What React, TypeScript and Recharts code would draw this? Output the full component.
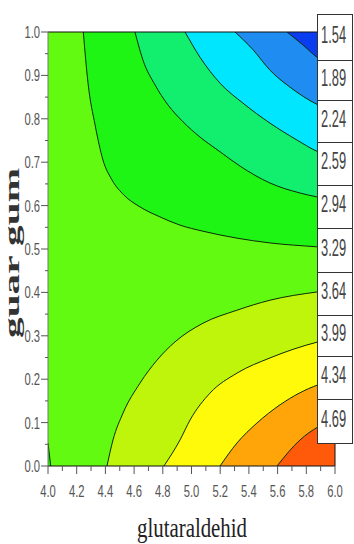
import React from "react";
import { Area, ComposedChart, Line, ReferenceLine, XAxis, YAxis } from "recharts";

type Pt = [number, number];

// contour lines, as [glutaraldehid, guar gum]
// upper right family (fill above the line)
const topA: Pt[] = [[4.246, 1.0], [4.279, 0.882], [4.328, 0.786], [4.383, 0.705], [4.446, 0.659], [4.53, 0.624], [4.641, 0.597], [4.78, 0.574], [4.92, 0.555], [5.08, 0.541], [5.317, 0.525], [5.547, 0.514], [5.875, 0.505], [6.0, 0.502]];
const topB: Pt[] = [[4.606, 1.0], [4.662, 0.935], [4.746, 0.878], [4.836, 0.832], [4.941, 0.793], [5.059, 0.758], [5.199, 0.724], [5.338, 0.691], [5.547, 0.652], [5.756, 0.629], [5.875, 0.62], [6.0, 0.613]];
const topC: Pt[] = [[4.955, 1.0], [5.059, 0.942], [5.199, 0.882], [5.359, 0.836], [5.547, 0.79], [5.735, 0.751], [5.882, 0.724], [6.0, 0.712]];
const topD: Pt[] = [[5.303, 1.0], [5.429, 0.959], [5.547, 0.912], [5.686, 0.873], [5.882, 0.832], [6.0, 0.816]];
const topE: Pt[] = [[5.666, 1.0], [5.777, 0.97], [5.882, 0.94], [6.0, 0.922]];
// lower right family (fill below the line)
const lowA: Pt[] = [[4.411, 0.0], [4.453, 0.06], [4.523, 0.122], [4.641, 0.191], [4.76, 0.244], [4.885, 0.286], [5.08, 0.329], [5.317, 0.359], [5.547, 0.382], [5.875, 0.401], [6.0, 0.406]];
const lowB: Pt[] = [[4.808, 0.0], [4.92, 0.06], [4.99, 0.106], [5.129, 0.168], [5.317, 0.214], [5.547, 0.249], [5.882, 0.286], [6.0, 0.295]];
const lowC: Pt[] = [[5.199, 0.0], [5.317, 0.053], [5.456, 0.099], [5.617, 0.141], [5.882, 0.187], [6.0, 0.198]];
const lowD: Pt[] = [[5.596, 0.0], [5.756, 0.06], [5.882, 0.09], [6.0, 0.106]];
const corner: Pt[] = [[4.0, 0.053], [4.019, 0.0]];

const legendLabels = ["1.54", "1.89", "2.24", "2.59", "2.94", "3.29", "3.64", "3.99", "4.34", "4.69"];

const xTicks = [4.0, 4.1, 4.2, 4.3, 4.4, 4.5, 4.6, 4.7, 4.8, 4.9, 5.0, 5.1, 5.2, 5.3, 5.4, 5.5, 5.6, 5.7, 5.8, 5.9, 6.0];
const yTicks = [0, 0.05, 0.1, 0.15, 0.2, 0.25, 0.3, 0.35, 0.4, 0.45, 0.5, 0.55, 0.6, 0.65, 0.7, 0.75, 0.8, 0.85, 0.9, 0.95, 1.0];

const BG = "#62fa10";
const topBands = [
  { pts: topA, fill: "#1ef514" },
  { pts: topB, fill: "#12ee6e" },
  { pts: topC, fill: "#00e6ff" },
  { pts: topD, fill: "#1e8cf0" },
  { pts: topE, fill: "#0a3cf0" },
];
const lowBands = [
  { pts: lowA, fill: "#bef50a" },
  { pts: lowB, fill: "#fffa0a" },
  { pts: lowC, fill: "#ffa50a" },
  { pts: lowD, fill: "#ff5a0a" },
  { pts: corner, fill: "#1ef514" },
];

const above = (pts: Pt[]) => pts.map(([x, y]) => ({ x, r: [y, 1], c: y }));
const below = (pts: Pt[]) => pts.map(([x, y]) => ({ x, r: [0, y], c: y }));
const bgData = [{ x: 4, r: [0, 1] }, { x: 6, r: [0, 1] }];

const LINE = "#0c2a08";
const TICK = "#555";

function XTick({ x, y, payload }: any) {
  const v = payload.value as number;
  const major = Math.round(v * 10) % 2 === 0;
  return (
    <g>
      <line x1={x} x2={x} y1={y} y2={y + (major ? 8 : 5)} stroke={TICK} />
      {major && (
        <text transform={`translate(${x},${y + 31}) scale(0.66,1)`} textAnchor="middle" fontSize={17}
          fill={TICK} fontFamily="Liberation Sans">
          {v.toFixed(1)}
        </text>
      )}
    </g>
  );
}

function YTick({ x, y, payload }: any) {
  const v = payload.value as number;
  const major = Math.round(v * 20) % 2 === 0;
  return (
    <g>
      <line x1={x} x2={x - (major ? 7 : 3)} y1={y} y2={y} stroke={TICK} />
      {major && (
        <text transform={`translate(${x - 8},${y + 6}) scale(0.66,1)`} textAnchor="end" fontSize={17}
          fill={TICK} fontFamily="Liberation Sans">
          {v.toFixed(1)}
        </text>
      )}
    </g>
  );
}

const legendEdges = [14, 60, 100, 142, 185, 228, 272, 315, 356, 399, 443];

export default function App() {
  return (
    <div style={{ position: "absolute", left: 0, top: 0, width: 354, height: 544, background: "#fff", overflow: "hidden" }}>
      <ComposedChart width={354} height={544} margin={{ top: 32, right: 19, bottom: 38, left: 8 }}>
        <XAxis type="number" dataKey="x" domain={[4, 6]} allowDataOverflow ticks={xTicks} interval={0}
          height={40} tickSize={0} tickMargin={0} tickLine={false} axisLine={{ stroke: "#111" }}
          tick={(p: any) => <XTick {...p} />} />
        <YAxis type="number" domain={[0, 1]} allowDataOverflow ticks={yTicks} interval={0}
          width={40} tickSize={0} tickMargin={0} tickLine={false} axisLine={{ stroke: "#777" }}
          tick={(p: any) => <YTick {...p} />} />
        <Area data={bgData} dataKey="r" type="linear" fill={BG} fillOpacity={1} stroke="none" isAnimationActive={false} />
        {topBands.map((b, i) => (
          <Area key={"t" + i} data={above(b.pts)} dataKey="r" type="monotone" fill={b.fill} fillOpacity={1}
            stroke="none" isAnimationActive={false} />
        ))}
        {lowBands.map((b, i) => (
          <Area key={"l" + i} data={below(b.pts)} dataKey="r" type="monotone" fill={b.fill} fillOpacity={1}
            stroke="none" isAnimationActive={false} />
        ))}
        {[...topBands, ...lowBands].map((b, i) => (
          <Line key={"c" + i} data={above(b.pts)} dataKey="c" type="monotone" stroke={LINE} strokeWidth={1}
            dot={false} activeDot={false} isAnimationActive={false} />
        ))}
        <ReferenceLine y={1} stroke="#111" />
        <ReferenceLine x={6} stroke="#111" />
      </ComposedChart>
      <svg width={354} height={544} style={{ position: "absolute", left: 0, top: 0, pointerEvents: "none" }}>
        {legendLabels.map((label, i) => {
          const top = legendEdges[i];
          const bottom = legendEdges[i + 1];
          const mid = (top + bottom) / 2 - 3;
          return (
            <g key={label}>
              <rect x={317.5} y={top + 0.5} width={35} height={bottom - top} fill="#fff" stroke="#333" />
              <text transform={`translate(321,${mid + 8.5}) scale(0.56,1)`} fontSize={23} fill="#444"
                fontFamily="Liberation Sans">
                {label}
              </text>
            </g>
          );
        })}
        <text x={192} y={537} textAnchor="middle" fontSize={27} fill="#222" fontFamily="Liberation Serif"
          textLength={110} lengthAdjust="spacingAndGlyphs">
          glutaraldehid
        </text>
        <text transform="translate(19,253) rotate(-90)" textAnchor="middle" fontSize={20} fontWeight="bold"
          fill="#333" fontFamily="Liberation Serif" textLength={170} lengthAdjust="spacingAndGlyphs">
          guar gum
        </text>
      </svg>
    </div>
  );
}
